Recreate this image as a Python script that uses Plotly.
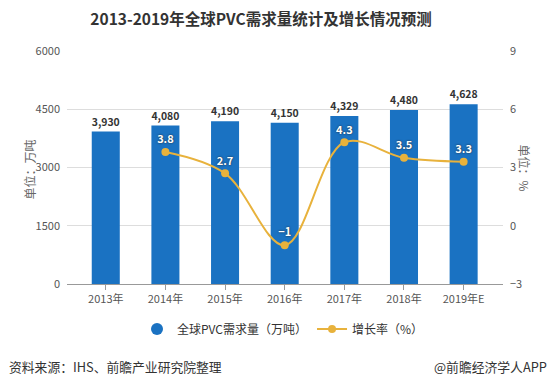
import plotly.graph_objects as go

categories = ["2013年", "2014年", "2015年", "2016年", "2017年", "2018年", "2019年E"]
demand = [3930, 4080, 4190, 4150, 4329, 4480, 4628]
growth_x = ["2014年", "2015年", "2016年", "2017年", "2018年", "2019年E"]
growth = [3.8, 2.7, -1, 4.3, 3.5, 3.3]
growth_labels = ["3.8", "2.7", "−1", "4.3", "3.5", "3.3"]
left_ticks = [0, 1500, 3000, 4500, 6000]
right_ticks = [-3, 0, 3, 6, 9]

BLUE = "#1a72c2"
GOLD = "#e8b23c"
FONT = "Noto Sans CJK SC, Noto Sans, sans-serif"

fig = go.Figure()
fig.add_trace(go.Bar(
    x=categories, y=demand, width=0.47, marker=dict(color=BLUE, line=dict(width=0)),
    text=[f"{v:,}" for v in demand], textposition="outside", cliponaxis=False,
    textfont=dict(size=11, color="#333", family=FONT, weight="bold"),
    showlegend=False, name="全球PVC需求量（万吨）",
))
fig.add_trace(go.Scatter(
    x=[None], y=[None], mode="markers", name="全球PVC需求量（万吨）",
    marker=dict(symbol="circle", size=12, color=BLUE),
))
fig.add_trace(go.Scatter(
    x=growth_x, y=growth, yaxis="y2", mode="lines+markers+text",
    line=dict(color=GOLD, width=2, shape="spline", smoothing=1.0),
    marker=dict(size=8, color=GOLD),
    text=growth_labels, textposition="top center",
    textfont=dict(size=11, color="white", family=FONT, weight="bold",
                  shadow="0px 0px 2px #222"),
    name="增长率（%）", cliponaxis=False,
))

W, H = 554, 385
l, r, t, b = 67, 51, 51, 101
pw, ph = W - l - r, H - t - b

fig.update_layout(
    width=W, height=H,
    margin=dict(l=l, r=r, t=t, b=b),
    paper_bgcolor="white", plot_bgcolor="white",
    font=dict(family=FONT, size=11, color="#555"),
    title=dict(text="<b>2013-2019年全球PVC需求量统计及增长情况预测</b>",
               x=261 / W, xanchor="center", y=1 - 20 / H, yanchor="middle",
               font=dict(size=15.5, color="#333", family=FONT)),
    xaxis=dict(type="category", categoryorder="array", categoryarray=categories,
               range=[-0.65, 6.66], showgrid=False, showline=True, linecolor="#999",
               ticks="outside", ticklen=5, tickcolor="#999",
               tickfont=dict(size=11, color="#555")),
    yaxis=dict(range=[0, 6000], tickvals=left_ticks, showgrid=True, gridcolor="#ddd",
               zeroline=False, showline=False, ticks="", ticklabelstandoff=6,
               tickfont=dict(size=11, color="#555")),
    yaxis2=dict(range=[-3, 9], tickvals=right_ticks, overlaying="y", side="right",
                showgrid=False, zeroline=False, showline=False, ticklabelstandoff=6,
                tickfont=dict(size=11, color="#555")),
    legend=dict(orientation="h", x=(137 - l) / pw, xanchor="left",
                y=(H - b - 329) / ph, yanchor="middle",
                font=dict(size=12, color="#333"), traceorder="normal"),
)

def ann(text, px, py, **kw):
    return dict(text=text, xref="paper", yref="paper", x=(px - l) / pw,
                y=(H - b - py) / ph, yanchor="middle", showarrow=False, **kw)

fig.update_layout(annotations=[
    ann("单位：万吨", 18, 170, textangle=-90, font=dict(size=12, color="#666")),
    ann("单位：%", 535, 168, textangle=90, font=dict(size=12, color="#666")),
    ann("资料来源：IHS、前瞻产业研究院整理", 7, 366, xanchor="left",
        font=dict(size=12.8, color="#333")),
    ann("@前瞻经济学人APP", 549, 366, xanchor="right",
        font=dict(size=12.8, color="#333")),
])

fig.write_html("out.html", config={"displayModeBar": False},
               post_script="document.body.style.margin='0';document.body.style.padding='0';")
